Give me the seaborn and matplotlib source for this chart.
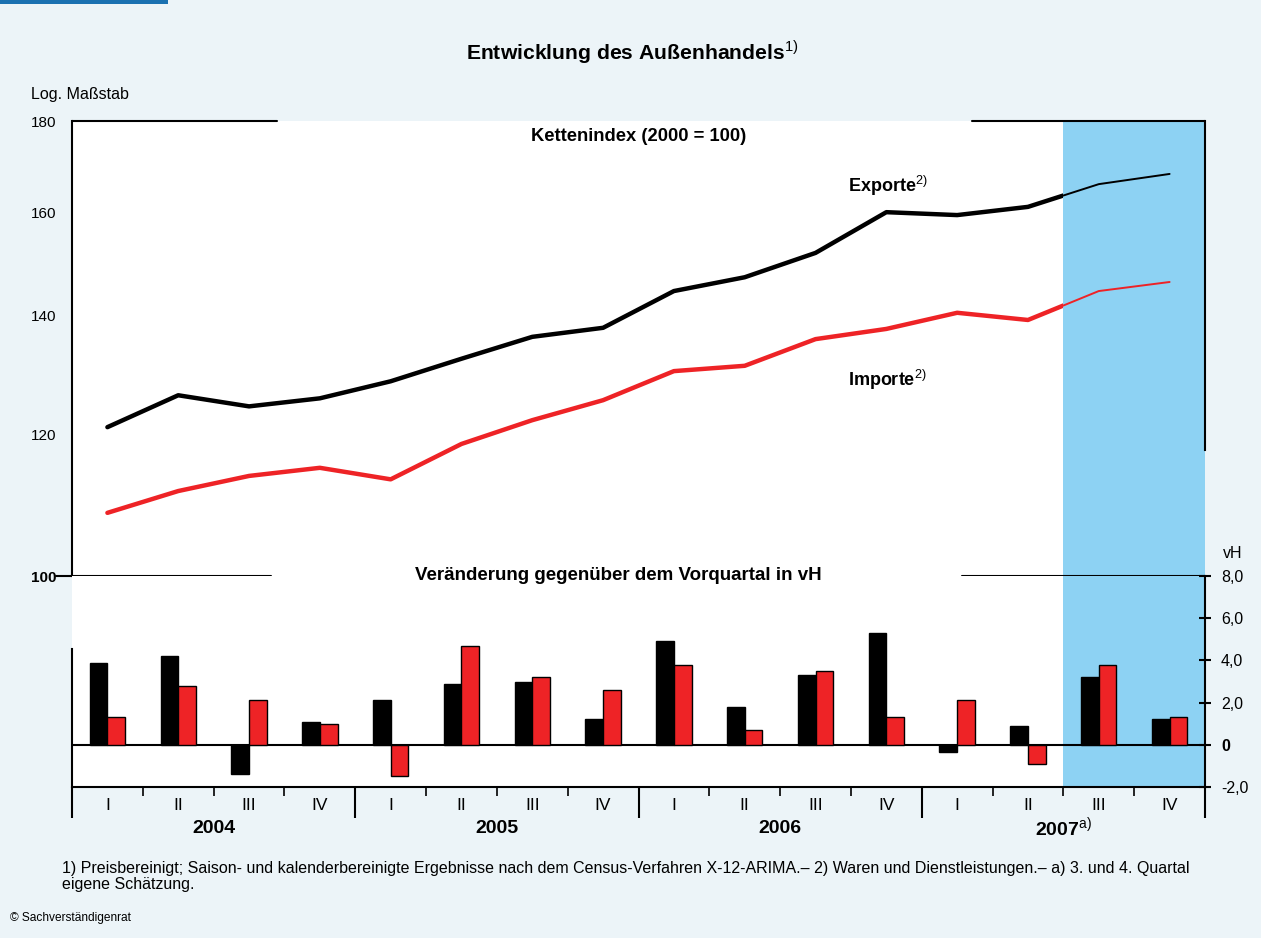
# Entwicklung des Außenhandels: Kettenindex (log) und Veränderung gegenüber Vorquartal
import numpy as np
import pandas as pd
import matplotlib.pyplot as plt
import matplotlib.patches as mpatches
import matplotlib.transforms as mtransforms
import seaborn as sns

sns.set_theme(style='white')
plt.rcParams['font.family'] = ['Liberation Sans', 'DejaVu Sans']
plt.rcParams['mathtext.fontset'] = 'custom'
plt.rcParams['mathtext.rm'] = 'Liberation Sans'
plt.rcParams['text.color'] = 'black'
plt.rcParams['xtick.color'] = 'black'
plt.rcParams['ytick.color'] = 'black'

# Daten
jahre = ['2004', '2005', '2006', '2007$^{\\mathrm{a)}}$']
quartale = ['I', 'II', 'III', 'IV']
exporte = [121.2, 126.3, 124.5, 125.8, 128.6, 132.4, 136.2, 137.8,
           144.5, 147.1, 151.8, 160.0, 159.4, 161.1, 165.9, 168.1]
importe = [108.5, 111.6, 113.8, 115.0, 113.3, 118.6, 122.3, 125.5,
           130.3, 131.2, 135.8, 137.6, 140.5, 139.2, 144.5, 146.2]
exporte_vq = [3.9, 4.2, -1.4, 1.1, 2.1, 2.9, 3.0, 1.2,
              4.9, 1.8, 3.3, 5.3, -0.35, 0.9, 3.2, 1.2]
importe_vq = [1.3, 2.8, 2.1, 1.0, -1.5, 4.7, 3.2, 2.6,
              3.8, 0.7, 3.5, 1.3, 2.1, -0.9, 3.8, 1.3]
n_schaetzung = 2  # 3. und 4. Quartal 2007 geschätzt

ROT = '#ee2326'
SCHWARZ = '#000000'
HELLBLAU = '#8dd2f3'
HINTERGRUND = '#ecf4f8'

n = len(exporte)
pos = np.arange(n)
labels16 = [f'{j[:4]} {q}' for j in jahre for q in quartale]

df_lines = pd.DataFrame({
    'pos': np.concatenate([pos, pos]),
    'wert': exporte + importe,
    'reihe': ['Exporte'] * n + ['Importe'] * n,
})
df_bars = pd.DataFrame({
    'quartal': labels16 + labels16,
    'vh': exporte_vq + importe_vq,
    'reihe': ['Exporte'] * n + ['Importe'] * n,
})
farben = {'Exporte': SCHWARZ, 'Importe': ROT}

W, H = 1261, 938


def rect(x0, y0, x1, y1):
    return [x0 / W, 1 - y1 / H, (x1 - x0) / W, (y1 - y0) / H]


fig = plt.figure(figsize=(W / 100, H / 100), dpi=100)
fig.patch.set_facecolor(HINTERGRUND)
fig.add_artist(mpatches.Rectangle((0, 1 - 4 / H), 168 / W, 4 / H,
                                  transform=fig.transFigure, color='#1a71b1', lw=0))

ax_top = fig.add_axes(rect(72, 121, 1205, 576))
ax_bot = fig.add_axes(rect(72, 576, 1205, 787))
for ax in (ax_top, ax_bot):
    ax.set_facecolor('white')
    ax.axvspan(n - n_schaetzung - 0.5, n - 0.5, color=HELLBLAU, lw=0, zorder=0)

# --- oberes Panel: Linien ---
sns.lineplot(data=df_lines, x='pos', y='wert', hue='reihe', palette=farben,
             linewidth=3.2, legend=False, errorbar=None, ax=ax_top, zorder=3)
sns.lineplot(data=df_lines, x='pos', y='wert', hue='reihe', palette=farben,
             linewidth=1.4, legend=False, errorbar=None, ax=ax_top, zorder=3)
clip = mpatches.Rectangle((-0.5, 0), n - n_schaetzung, 1,
                          transform=mtransforms.blended_transform_factory(ax_top.transData, ax_top.transAxes))
for line in ax_top.lines[:2]:
    line.set_clip_path(clip)

ax_top.set_yscale('log')
ax_top.set_xlim(-0.5, n - 0.5)
ax_top.set_ylim(100, 180)
ax_top.set_yticks([100, 120, 140, 160, 180], labels=['100', '120', '140', '160', '180'])
ax_top.yaxis.set_minor_locator(plt.NullLocator())
ax_top.set_xticks([])
ax_top.set_xlabel('')
ax_top.set_ylabel('')
ax_top.tick_params(axis='y', direction='in', length=11, width=1.5, pad=11.5,
                   labelsize=11)
ax_top.get_yticklabels()[0].set_fontweight('bold')

for s in ('top', 'bottom'):
    ax_top.spines[s].set_visible(False)
ax_top.spines['left'].set_color('black')
ax_top.spines['left'].set_linewidth(1.5)
ax_top.spines['right'].set_color('black')
ax_top.spines['right'].set_linewidth(1.5)
ax_top.spines['right'].set_bounds(117.7, 180)
ax_top.axhline(180, 0, (277 - 72) / 1133, color='black', lw=1.5, clip_on=False)
ax_top.axhline(180, (972 - 72) / 1133, 1, color='black', lw=1.5, clip_on=False)
ax_top.axhline(100, -16 / 1133, (271 - 72) / 1133, color='black', lw=1.5, clip_on=False, zorder=5)
ax_top.axhline(100, (962 - 72) / 1133, 1, color='black', lw=1.5, clip_on=False, zorder=5)

ax_top.text(0.5, 0.965, 'Kettenindex (2000 = 100)', transform=ax_top.transAxes,
            ha='center', va='center', fontsize=13.2, fontweight='bold')
ax_top.text(0.685, 0.857, 'Exporte$^{\\mathrm{2)}}$', transform=ax_top.transAxes,
            ha='left', va='center', fontsize=13, fontweight='bold')
ax_top.text(0.685, 0.431, 'Importe$^{\\mathrm{2)}}$', transform=ax_top.transAxes,
            ha='left', va='center', fontsize=13, fontweight='bold')

# --- unteres Panel: Balken ---
sns.barplot(data=df_bars, x='quartal', y='vh', hue='reihe', palette=farben,
            width=0.5, edgecolor='black', linewidth=1, legend=False,
            errorbar=None, ax=ax_bot, zorder=3, saturation=1)
ax_bot.axhline(0, color='black', lw=1.5, zorder=2)
ax_bot.set_xlim(-0.5, n - 0.5)
ax_bot.set_ylim(-2, 8)
ax_bot.set_xlabel('')
ax_bot.set_ylabel('')
ax_bot.yaxis.tick_right()
ax_bot.set_yticks([-2, 0, 2, 4, 6, 8], labels=['-2,0', '0', '2,0', '4,0', '6,0', '8,0'])
ax_bot.get_yticklabels()[1].set_fontweight('bold')
ax_bot.tick_params(axis='y', direction='inout', length=9, width=1.5, pad=7,
                   labelsize=11.5)
ax_bot.set_xticks(pos, labels=quartale * len(jahre))
ax_bot.set_xticks(np.arange(n + 1) - 0.5, minor=True)
ax_bot.tick_params(axis='x', which='major', length=0, pad=8, labelsize=12.5)
ax_bot.tick_params(axis='x', which='minor', direction='out', length=6.5, width=1.2,
                   bottom=True)

ax_bot.spines['top'].set_visible(False)
for s in ('left', 'right', 'bottom'):
    ax_bot.spines[s].set_color('black')
    ax_bot.spines[s].set_linewidth(1.5)
ax_bot.spines['left'].set_bounds(-2, 4.55)

trans = mtransforms.blended_transform_factory(ax_bot.transData, ax_bot.transAxes)
grenzen = np.arange(len(jahre) + 1) * len(quartale) - 0.5
ax_bot.vlines(grenzen, -31 / 211, 0, transform=trans, color='black', lw=1.5, clip_on=False)
for i, j in enumerate(jahre):
    ax_bot.text(i * len(quartale) + 1.5, -41 / 211, j, transform=trans,
                ha='center', va='center', fontsize=14, fontweight='bold')

ax_bot.text((618 - 72) / 1133, 1.0, 'Veränderung gegenüber dem Vorquartal in vH',
            transform=ax_bot.transAxes, ha='center', va='center',
            fontsize=13.5, fontweight='bold')

# --- Beschriftungen ---
fig.text(632 / W, 1 - 52 / H, 'Entwicklung des Außenhandels$^{\\mathrm{1)}}$',
         ha='center', va='center', fontsize=15.2, fontweight='bold')
fig.text(31 / W, 1 - 94 / H, 'Log. Maßstab', ha='left', va='center', fontsize=11.5)
fig.text(1233 / W, 1 - 553 / H, 'vH', ha='center', va='center', fontsize=11.5)
fig.text(62 / W, 1 - 861 / H,
         '1) Preisbereinigt; Saison- und kalenderbereinigte Ergebnisse nach dem '
         'Census-Verfahren X-12-ARIMA.– 2) Waren und Dienstleistungen.– a) 3. und 4. Quartal\n'
         'eigene Schätzung.',
         ha='left', va='top', fontsize=11.5, linespacing=1.1)
fig.text(10 / W, 1 - 918 / H, '© Sachverständigenrat', ha='left', va='center', fontsize=8.6)

fig.savefig('out.png', dpi=100, facecolor=fig.get_facecolor())
